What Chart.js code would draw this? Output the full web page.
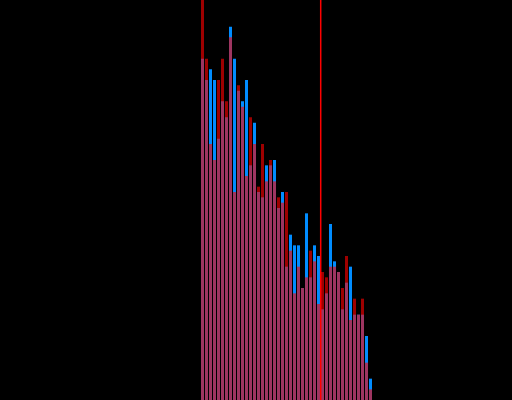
<!DOCTYPE html>
<html>
<head>
<meta charset="utf-8">
<script src="https://cdn.jsdelivr.net/npm/chart.js@4/dist/chart.umd.min.js"></script>
<style>
  html, body { margin: 0; padding: 0; background: #000; }
  #wrap { width: 512px; height: 400px; }
  canvas { display: block; background: #000; }
</style>
</head>
<body>
<div id="wrap"><canvas id="c" width="512" height="400"></canvas></div>
<script>
// Bin indices (histogram bins)
const bins = [0,1,2,3,4,5,6,7,8,9,10,11,12,13,14,15,16,17,18,19,20,21,22,23,24,25,26,27,28,29,30,31,32,33,34,35,36,37,38,39,40,41,42];
// Red series counts (first bin exceeds the axis and is clipped)
const redCounts = [85,64,48,45,60,64,56,68,39,59,55,42,53,48,40,48,41,45,41,38,37,39,28,20,25,21,23,28,26,18,24,23,25,25,24,21,27,15,19,16,19,7,2];
// Blue series counts
const blueCounts = [64,60,62,60,49,56,53,70,64,58,56,60,44,52,39,38,44,44,45,36,39,25,31,29,29,21,35,23,29,27,17,20,33,26,24,17,22,25,16,16,16,12,4];
// Vertical marker position (in bin units)
const markerValue = 29.55;
const yMax = 75;

const markerPlugin = {
  id: 'marker',
  afterDatasetsDraw(chart) {
    const { ctx, chartArea, scales } = chart;
    const x = scales.x.getPixelForValue(markerValue);
    ctx.save();
    ctx.strokeStyle = '#ff0000';
    ctx.lineWidth = 1.5;
    ctx.beginPath();
    ctx.moveTo(x, chartArea.top);
    ctx.lineTo(x, chartArea.bottom);
    ctx.stroke();
    ctx.restore();
  }
};

new Chart(document.getElementById('c'), {
  type: 'bar',
  data: {
    datasets: [
      {
        label: 'blue',
        data: bins.map((b, i) => ({ x: b, y: blueCounts[i] })),
        backgroundColor: 'rgb(0,140,255)',
        grouped: false,
        barThickness: 3,
        borderWidth: 0,
        inflateAmount: 0,
        order: 2
      },
      {
        label: 'red',
        data: bins.map((b, i) => ({ x: b, y: redCounts[i] })),
        backgroundColor: 'rgba(255,0,0,0.62)',
        grouped: false,
        barThickness: 3,
        borderWidth: 0,
        inflateAmount: 0,
        order: 1
      }
    ]
  },
  options: {
    responsive: false,
    devicePixelRatio: 1,
    animation: false,
    layout: { padding: 0 },
    plugins: { legend: { display: false }, tooltip: { enabled: false }, title: { display: false } },
    scales: {
      x: { type: 'linear', display: false, min: -50.625, max: 77.375, offset: false },
      y: { display: false, min: 0, max: yMax, beginAtZero: true }
    }
  },
  plugins: [markerPlugin]
});
</script>
</body>
</html>
